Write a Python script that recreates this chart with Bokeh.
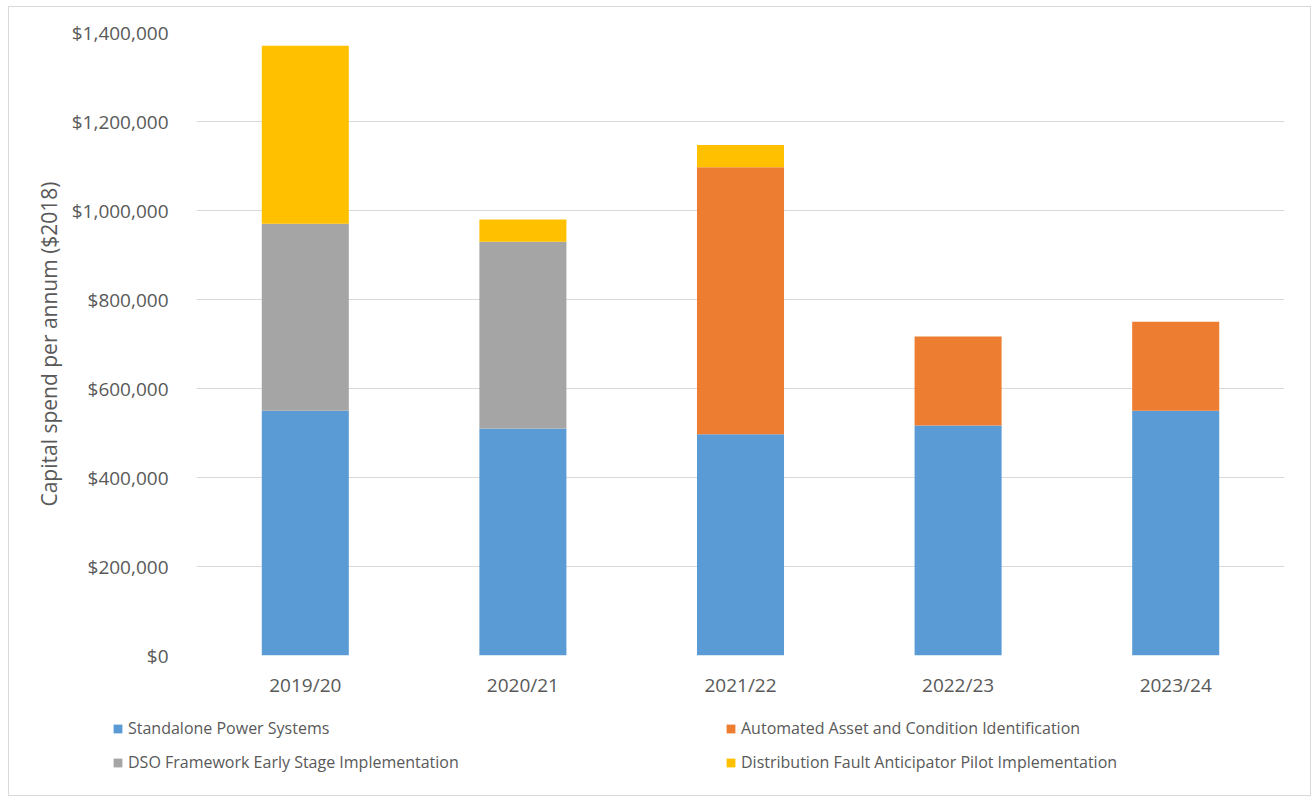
from bokeh.plotting import figure
from bokeh.layouts import column, row
from bokeh.models import (ColumnDataSource, FactorRange, Range1d, NumeralTickFormatter,
                          Legend, LegendItem, FixedTicker)
from bokeh.embed import file_html
from bokeh.resources import INLINE

years = ["2019/20", "2020/21", "2021/22", "2022/23", "2023/24"]
standalone = [550000, 510000, 497000, 517000, 550000]
automated = [0, 0, 600000, 200000, 200000]
dso = [420000, 420000, 0, 0, 0]
fault = [400000, 50000, 50000, 0, 0]
y_ticks = [0, 200000, 400000, 600000, 800000, 1000000, 1200000, 1400000]

series = ["standalone", "automated", "dso", "fault"]
labels = ["Standalone Power Systems", "Automated Asset and Condition Identification",
          "DSO Framework Early Stage Implementation", "Distribution Fault Anticipator Pilot Implementation"]
colors = ["#5B9BD5", "#ED7D31", "#A5A5A5", "#FFC000"]

src = ColumnDataSource(dict(years=years, standalone=standalone, automated=automated,
                            dso=dso, fault=fault))

FONT = "Open Sans"
TXT = "#595959"

p = figure(width=1301, height=693, x_range=FactorRange(*years, range_padding=0),
           y_range=Range1d(0, 1400000), output_backend="svg", toolbar_location=None,
           min_border_left=187, min_border_right=26, min_border_top=25, min_border_bottom=45)

rs = p.vbar_stack(series, x="years", width=0.4, color=colors, line_color=None, source=src)

p.outline_line_color = None
p.xgrid.grid_line_color = None
p.ygrid.grid_line_color = "#d9d9d9"
p.ygrid.grid_line_width = 1

p.yaxis.ticker = FixedTicker(ticks=y_ticks)
p.yaxis.formatter = NumeralTickFormatter(format="$0,0")
p.yaxis.axis_label = "Capital spend per annum ($2018)"
p.yaxis.axis_label_text_font = FONT
p.yaxis.axis_label_text_font_size = "21px"
p.yaxis.axis_label_text_font_style = "normal"
p.yaxis.axis_label_text_color = TXT
p.yaxis.axis_label_standoff = 6
p.yaxis.major_label_standoff = 22

for ax in (p.xaxis, p.yaxis):
    ax.axis_line_color = None
    ax.major_tick_line_color = None
    ax.minor_tick_line_color = None
    ax.major_label_text_font = FONT
    ax.major_label_text_font_size = "19px"
    ax.major_label_text_color = TXT
p.xaxis.major_label_standoff = 10

# Legend panel: a separate figure whose (hidden) renderers only feed the legend swatches
p2 = figure(width=1301, height=95, x_range=FactorRange(*years, range_padding=0),
            y_range=Range1d(0, 1400000), output_backend="svg", toolbar_location=None,
            min_border_left=0, min_border_right=0, min_border_top=0, min_border_bottom=0)
rs2 = p2.vbar_stack(series, x="years", width=0.4, color=colors, line_color=None, source=src)
for r in rs2:
    r.visible = False
p2.xaxis.visible = False
p2.yaxis.visible = False
p2.grid.visible = False
p2.outline_line_color = None

def make_legend(idx, loc):
    return Legend(items=[LegendItem(label=labels[i], renderers=[rs2[i]]) for i in idx],
                  location=loc, orientation="vertical",
                  padding=0, margin=0, spacing=0, glyph_width=11, glyph_height=11,
                  label_height=34, label_standoff=5, label_text_font=FONT,
                  label_text_font_size="16px", label_text_color=TXT,
                  inactive_fill_alpha=0,
                  background_fill_alpha=0, border_line_color=None)

p2.add_layout(make_legend([0, 2], (103, 16)), "center")
p2.add_layout(make_legend([1, 3], (716, 16)), "center")

layout = column(p, row(p2), spacing=0,
                styles={"border": "1px solid #d9d9d9", "margin-left": "8px", "margin-top": "6px"})

open("out.html", "w").write(file_html(layout, INLINE))
